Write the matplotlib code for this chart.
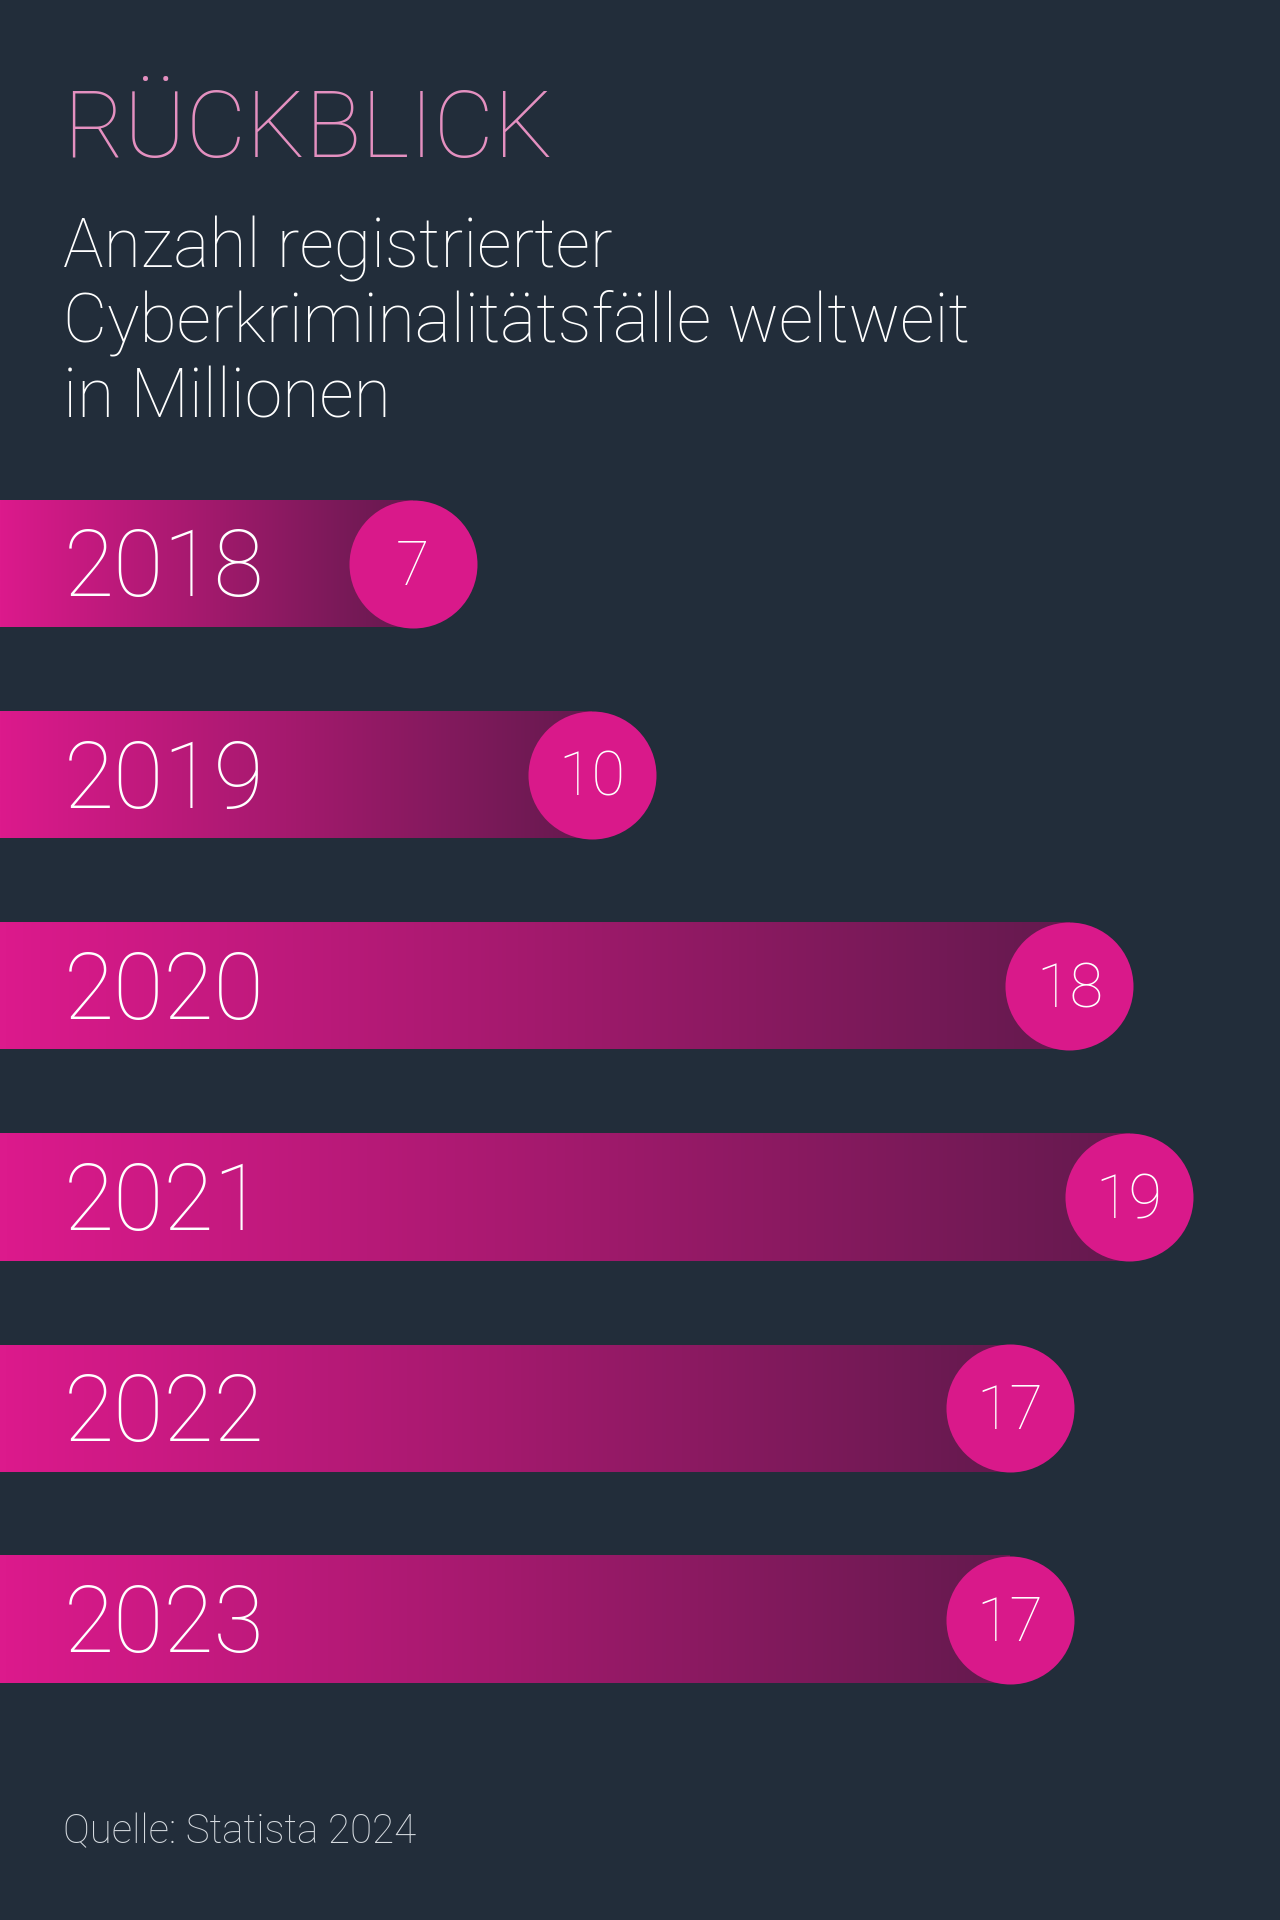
import numpy as np
import matplotlib.pyplot as plt
from matplotlib.colors import LinearSegmentedColormap

years = ["2018", "2019", "2020", "2021", "2022", "2023"]
cases = [7, 10, 18, 19, 17, 17]  # Millionen

title = "RÜCKBLICK"
subtitle = ["Anzahl registrierter", "Cyberkriminalitätsfälle weltweit", "in Millionen"]
source = "Quelle: Statista 2024"

bg = "#222d3a"
pink = "#d9198a"
grad = LinearSegmentedColormap.from_list("bar", ["#dc1a8c", "#a3196d", "#641a4e"])

plt.rcParams['font.family'] = ['Roboto', 'DejaVu Sans']

W, H = 1280, 1920
fig = plt.figure(figsize=(W / 100, H / 100), dpi=100, facecolor=bg)

# header texts
left = 63 / W
fig.text(left, 1 - 157 / H, title, color="#e490c0", fontsize=67, fontweight="light", va="baseline")
for k, line in enumerate(subtitle):
    fig.text(left, 1 - (267 + 75 * k) / H, line, color="white", fontsize=49,
             fontweight="light", va="baseline")
fig.text(left, 1 - 1843 / H, source, color="#d6dbe0", fontsize=29, fontweight="light", va="baseline")

# bars: 1 value unit ~ 59.7 px, row spacing = 211 px
ax = fig.add_axes([0, 0, 1, 1])
ax.set_facecolor("none")
unit_px = 59.7
x0 = 0.087
row_px = 211.2
first_px = 563.5
xlim = (x0, x0 + W / unit_px)
ylim = ((H - first_px) / row_px, -first_px / row_px)
ax.axis("off")

bar_h = 127 / row_px
ramp = np.linspace(0, 1, 256).reshape(1, -1)
for i, (yr, v) in enumerate(zip(years, cases)):
    ax.imshow(ramp, cmap=grad, aspect="auto", interpolation="bilinear",
              extent=(x0, v, i + bar_h / 2, i - bar_h / 2), zorder=1)
    ax.text(1.15, i + 0.156, yr, color="white", fontsize=66, fontweight="light",
            va="baseline", ha="left", zorder=3)

diam_pt = 128 * 72 / 100
ax.scatter(cases, range(len(cases)), s=diam_pt ** 2, color=pink, linewidths=0, zorder=2)
for i, v in enumerate(cases):
    ax.text(v, i + 0.1, str(v), color="white", fontsize=44, fontweight="light",
            va="baseline", ha="center", zorder=3)

ax.set_xlim(*xlim)
ax.set_ylim(*ylim)

fig.savefig("out.png", dpi=100, facecolor=bg)
